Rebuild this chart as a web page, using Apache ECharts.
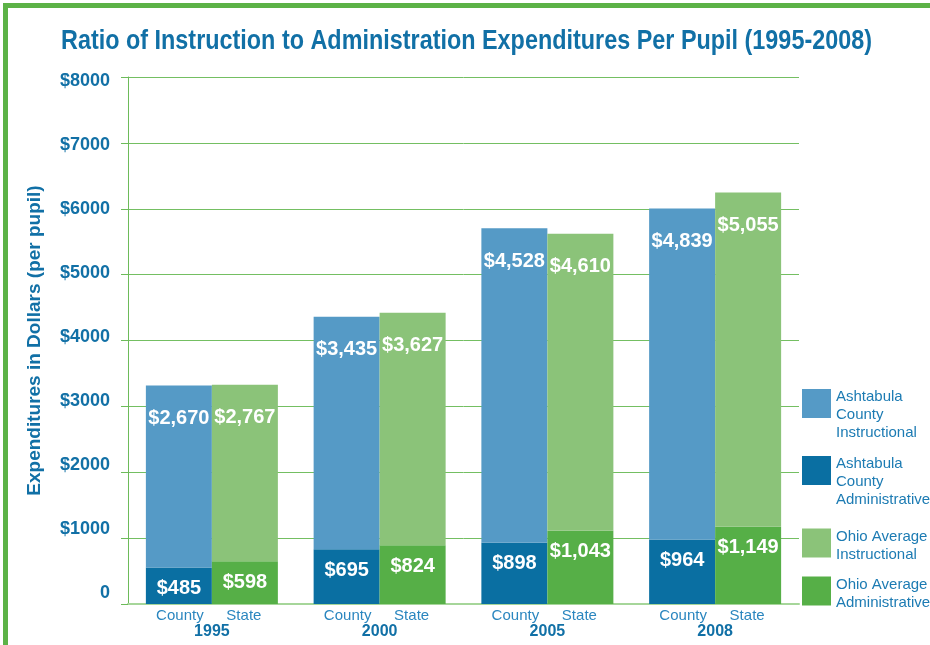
<!DOCTYPE html>
<html>
<head>
<meta charset="utf-8">
<script src="https://cdn.jsdelivr.net/npm/echarts@6/dist/echarts.min.js"></script>
<style>
  html, body { margin: 0; padding: 0; background: #fff; }
  #main { width: 930px; height: 645px; }
</style>
</head>
<body>
<div id="main"></div>
<script>
// 年份分类
var years = ['1995', '2000', '2005', '2008'];

// 图上标注的金额
var countyInstrLabel = [2670, 3435, 4528, 4839];
var countyAdminLabel = [485, 695, 898, 964];
var stateInstrLabel = [2767, 3627, 4610, 5055];
var stateAdminLabel = [598, 824, 1043, 1149];

// 柱子实际画出来的高度（从图上量的）
var countyAdminBar = [554, 833, 928, 980];
var countyInstrBar = [2764, 3526, 4775, 5023];
var stateAdminBar = [650, 893, 1111, 1172];
var stateInstrBar = [2679, 3527, 4511, 5074];

// y轴刻度
var yTicks = [0, 1000, 2000, 3000, 4000, 5000, 6000, 7000, 8000];

var titleText = 'Ratio of Instruction to Administration Expenditures Per Pupil (1995-2008)';

var legendText = {
  'Ashtabula County Instructional': ['Ashtabula', 'County', 'Instructional'],
  'Ashtabula County Administrative': ['Ashtabula', 'County', 'Administrative'],
  'Ohio Average Instructional': ['Ohio Average', 'Instructional'],
  'Ohio Average Administrative': ['Ohio Average', 'Administrative']
};

var blueText = '#1170a6';
var colors = {
  countyInstr: '#559ac6',
  countyAdmin: '#0a6fa2',
  stateInstr: '#8bc379',
  stateAdmin: '#56af47'
};

function money(v) {
  return '$' + String(v).replace(/\B(?=(\d{3})+(?!\d))/g, ',');
}

// 标题字体是窄体，没有就横向压缩
var titleFont = 'bold 28px "Liberation Sans"';
var ctx = document.createElement('canvas').getContext('2d');
ctx.font = titleFont;
var titleScale = 811 / ctx.measureText(titleText).width;

// y轴文字每个刻度的微调
var yRich = {};
yTicks.forEach(function (v, k) {
  var s = -11.2 + 1.94 * k;
  var pad = s < 0 ? [0, 0, Math.round(-2 * s), 0] : [Math.round(2 * s), 0, 0, 0];
  yRich['p' + k] = {fontSize: 18, fontWeight: 'bold', color: blueText, fontFamily: 'Liberation Sans', padding: pad};
});

var barLabel = {
  show: true,
  color: '#fff',
  fontSize: 20,
  fontWeight: 'bold',
  fontFamily: 'Liberation Sans'
};

function makeLegend(name, top, gap) {
  return {
    data: [name],
    left: 802,
    top: top,
    padding: 0,
    itemWidth: 29,
    itemHeight: 29,
    icon: 'rect',
    selectedMode: false,
    formatter: function (n) {
      return '{e| }\n' + legendText[n].map(function (t) { return '{t|' + t + '}'; }).join('\n');
    },
    textStyle: {
      rich: {
        e: {fontSize: 1, lineHeight: gap},
        t: {color: '#1c7bb3', fontSize: 15, lineHeight: 18, fontFamily: 'Liberation Sans'}
      }
    }
  };
}

var option = {
  animation: false,
  backgroundColor: '#fff',
  graphic: [
    {type: 'rect', shape: {x: 3, y: 3, width: 927, height: 5}, style: {fill: '#5cb247'}},
    {type: 'rect', shape: {x: 3, y: 3, width: 5, height: 642}, style: {fill: '#5cb247'}},
    {
      type: 'text',
      x: 61,
      y: 41,
      scaleX: titleScale,
      style: {text: titleText, font: titleFont, fill: blueText, verticalAlign: 'middle'}
    }
  ],
  legend: [
    makeLegend('Ashtabula County Instructional', 376, 22),
    makeLegend('Ashtabula County Administrative', 443, 22),
    makeLegend('Ohio Average Instructional', 524.5, 5),
    makeLegend('Ohio Average Administrative', 572.5, 5)
  ],
  grid: {left: 128, right: 131, top: 77, bottom: 41},
  xAxis: {
    type: 'category',
    data: years,
    axisTick: {show: false},
    axisLine: {lineStyle: {color: '#a6d69a', width: 2}},
    axisLabel: {
      margin: 4,
      formatter: function (v) {
        return '{c|County}{s|State}\n{y|' + v + '}';
      },
      rich: {
        c: {width: 64, align: 'center', fontSize: 15, lineHeight: 16, color: '#2a86bf', fontFamily: 'Liberation Sans'},
        s: {width: 64, align: 'center', fontSize: 15, lineHeight: 16, color: '#2a86bf', fontFamily: 'Liberation Sans'},
        y: {fontSize: 16, lineHeight: 16, fontWeight: 'bold', color: blueText, fontFamily: 'Liberation Sans'}
      }
    }
  },
  yAxis: {
    type: 'value',
    min: 0,
    max: 8000,
    interval: 1000,
    name: 'Expenditures in Dollars (per pupil)',
    nameLocation: 'middle',
    nameRotate: 90,
    nameGap: 84,
    nameTextStyle: {color: blueText, fontSize: 19, fontWeight: 'bold', fontFamily: 'Liberation Sans'},
    axisLine: {show: true, lineStyle: {color: '#6dbb5a', width: 1}},
    axisTick: {show: true, length: 7, lineStyle: {color: '#6dbb5a'}},
    splitLine: {lineStyle: {color: '#74bf62', width: 1}},
    axisLabel: {
      margin: 18,
      formatter: function (v) {
        var k = yTicks.indexOf(v);
        return '{p' + k + '|' + (v === 0 ? '0' : '$' + v) + '}';
      },
      rich: yRich
    }
  },
  series: [
    {
      name: 'Ashtabula County Administrative',
      type: 'bar',
      stack: 'county',
      barWidth: 66,
      barGap: '0%',
      data: countyAdminBar,
      itemStyle: {color: colors.countyAdmin},
      label: Object.assign({}, barLabel, {
        position: 'insideTop', distance: 11,
        formatter: function (p) { return money(countyAdminLabel[p.dataIndex]); }
      })
    },
    {
      name: 'Ashtabula County Instructional',
      type: 'bar',
      stack: 'county',
      barWidth: 66,
      barGap: '0%',
      data: countyInstrBar,
      itemStyle: {color: colors.countyInstr},
      label: Object.assign({}, barLabel, {
        position: 'insideTop', distance: 23,
        formatter: function (p) { return money(countyInstrLabel[p.dataIndex]); }
      })
    },
    {
      name: 'Ohio Average Administrative',
      type: 'bar',
      stack: 'state',
      barWidth: 66,
      barGap: '0%',
      data: stateAdminBar,
      itemStyle: {color: colors.stateAdmin},
      label: Object.assign({}, barLabel, {
        position: 'insideTop', distance: 11,
        formatter: function (p) { return money(stateAdminLabel[p.dataIndex]); }
      })
    },
    {
      name: 'Ohio Average Instructional',
      type: 'bar',
      stack: 'state',
      barWidth: 66,
      barGap: '0%',
      data: stateInstrBar,
      itemStyle: {color: colors.stateInstr},
      label: Object.assign({}, barLabel, {
        position: 'insideTop', distance: 23,
        formatter: function (p) { return money(stateInstrLabel[p.dataIndex]); }
      })
    }
  ]
};

var myChart = echarts.init(document.getElementById('main'));
myChart.setOption(option);
</script>
</body>
</html>
